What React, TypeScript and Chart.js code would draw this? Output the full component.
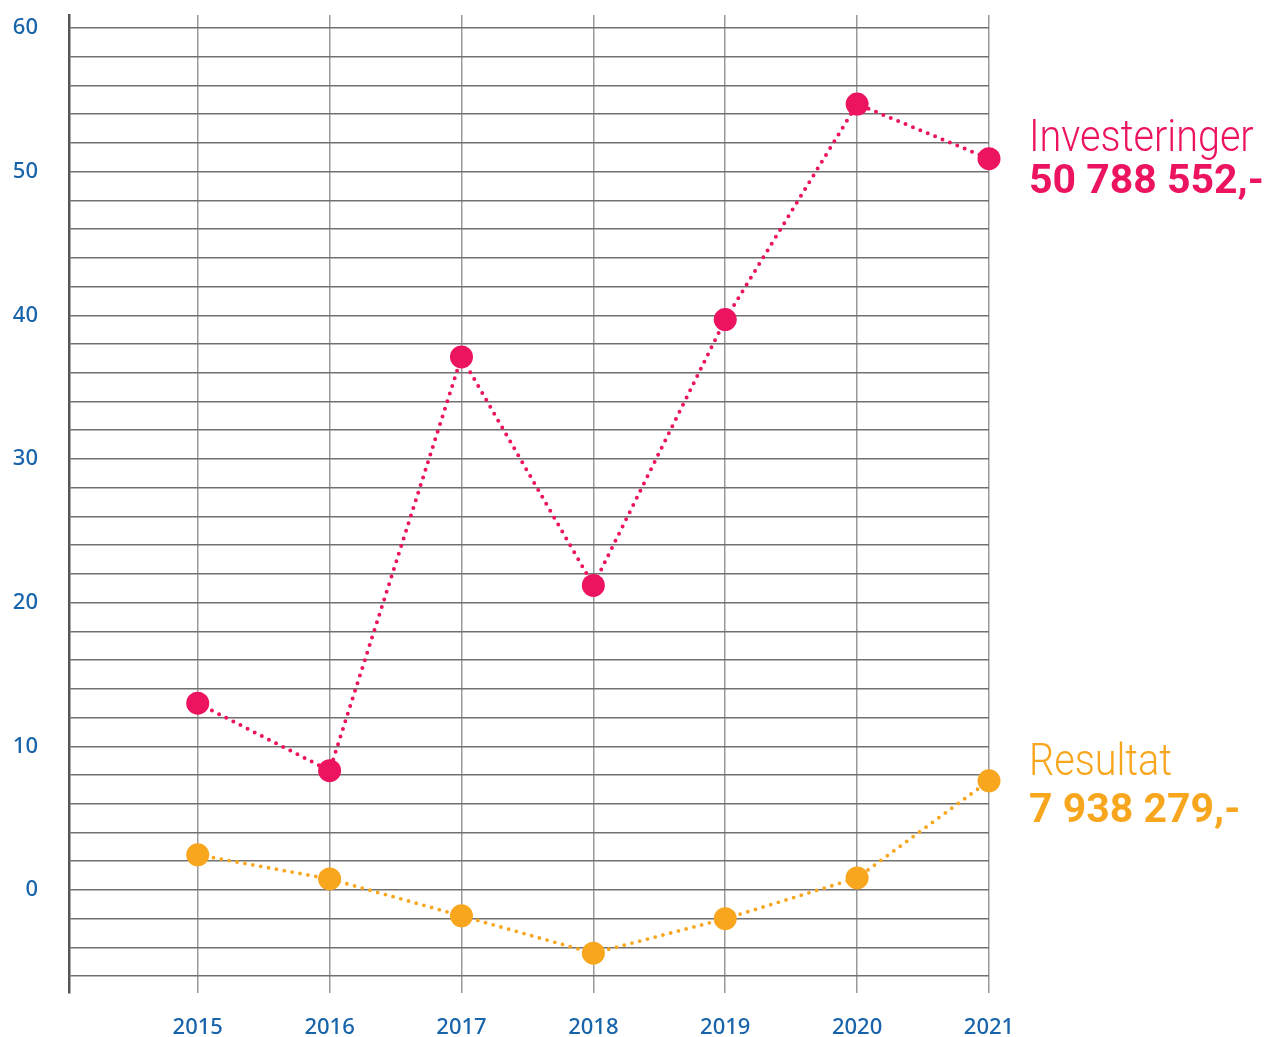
import React, { useEffect, useRef } from "react";
import { Chart, registerables } from "chart.js";

Chart.register(...registerables);

const years = [2015, 2016, 2017, 2018, 2019, 2020, 2021];
const investeringer = [13.0, 8.3, 37.1, 21.2, 39.7, 54.7, 50.9];
const resultat = [2.45, 0.77, -1.8, -4.4, -2.0, 0.84, 7.6];
const investLabel = "Investeringer";
const investTotal = "50 788 552,-";
const resultatLabel = "Resultat";
const resultatTotal = "7 938 279,-";

const PINK = "#EC1461";
const ORANGE = "#F8A61E";
const BLUE = "#1864AB";

const sideLabels = {
  id: "sideLabels",
  afterDatasetsDraw(chart: any) {
    const ctx = chart.ctx;
    const area = chart.chartArea;
    const ys = chart.scales.y;
    const x = area.right + 40;
    const draw = (
      title: string,
      total: string,
      color: string,
      value: number,
      dyTitle: number,
      dyTotal: number,
      totalSize: number
    ) => {
      const py = ys.getPixelForValue(value);
      ctx.save();
      ctx.fillStyle = color;
      ctx.textAlign = "left";
      ctx.textBaseline = "alphabetic";
      ctx.save();
      ctx.translate(x, py + dyTitle);
      ctx.scale(0.9, 1);
      ctx.font = "300 44px Roboto";
      ctx.fillText(title, 0, 0);
      ctx.restore();
      ctx.font = `bold ${totalSize}px Roboto`;
      ctx.fillText(total, x, py + dyTotal);
      ctx.restore();
    };
    draw(investLabel, investTotal, PINK, investeringer[investeringer.length - 1], -8, 34, 41);
    draw(resultatLabel, resultatTotal, ORANGE, resultat[resultat.length - 1], -6, 41, 41);
  },
};

export default function App() {
  const ref = useRef<HTMLCanvasElement | null>(null);

  useEffect(() => {
    if (!ref.current) return;
    const tickFont = { family: "'Noto Sans', 'Open Sans', sans-serif", size: 22, weight: 500 as any };
    const chart = new Chart(ref.current, {
      type: "line",
      data: {
        datasets: [
          {
            label: investLabel,
            data: years.map((y, i) => ({ x: y, y: investeringer[i] })),
            borderColor: PINK,
            backgroundColor: PINK,
            borderWidth: 4,
            borderDash: [0, 8],
            borderCapStyle: "round",
            pointRadius: 11.5,
            pointHoverRadius: 11.5,
            pointBorderWidth: 0,
            pointBackgroundColor: PINK,
            tension: 0,
            clip: false as any,
          },
          {
            label: resultatLabel,
            data: years.map((y, i) => ({ x: y, y: resultat[i] })),
            borderColor: ORANGE,
            backgroundColor: ORANGE,
            borderWidth: 3.8,
            borderDash: [0, 8],
            borderCapStyle: "round",
            pointRadius: 11.5,
            pointHoverRadius: 11.5,
            pointBorderWidth: 0,
            pointBackgroundColor: ORANGE,
            tension: 0,
            clip: false as any,
          },
        ],
      },
      options: {
        animation: false,
        responsive: false,
        devicePixelRatio: 1,
        layout: { padding: { top: 15, right: 280, bottom: 0, left: 0 } },
        plugins: {
          legend: { display: false },
          tooltip: { enabled: false },
        },
        scales: {
          x: {
            type: "linear",
            min: 2014.024,
            max: 2021,
            afterFit: (axis: any) => {
              axis.height = 44;
              axis.paddingLeft = 0;
              axis.paddingRight = 0;
            },
            ticks: {
              stepSize: 1,
              includeBounds: false,
              padding: 22,
              color: BLUE,
              font: tickFont,
              callback: (v: any) => String(v),
            },
            grid: {
              color: "#9a9a9a",
              lineWidth: 1.5,
              drawTicks: false,
            },
            border: { display: false },
          },
          y: {
            type: "linear",
            min: -7.17,
            max: 60.9,
            afterFit: (axis: any) => {
              axis.width = 69;
              axis.paddingTop = 0;
              axis.paddingBottom = 0;
            },
            ticks: {
              stepSize: 2,
              includeBounds: false,
              padding: 31,
              color: BLUE,
              font: tickFont,
              callback: (v: any) => (Math.round(v) % 10 === 0 ? String(Math.round(v)) : ""),
            },
            grid: {
              color: "#707070",
              lineWidth: 1.5,
              drawTicks: false,
            },
            border: { display: true, color: "#555555", width: 2.5 },
          },
        },
      },
      plugins: [sideLabels],
    });
    return () => chart.destroy();
  }, []);

  return (
    <div style={{ position: "absolute", left: 0, top: 0, width: 1269, height: 1037 }}>
      <canvas ref={ref} width={1269} height={1037} style={{ width: 1269, height: 1037 }} />
    </div>
  );
}
